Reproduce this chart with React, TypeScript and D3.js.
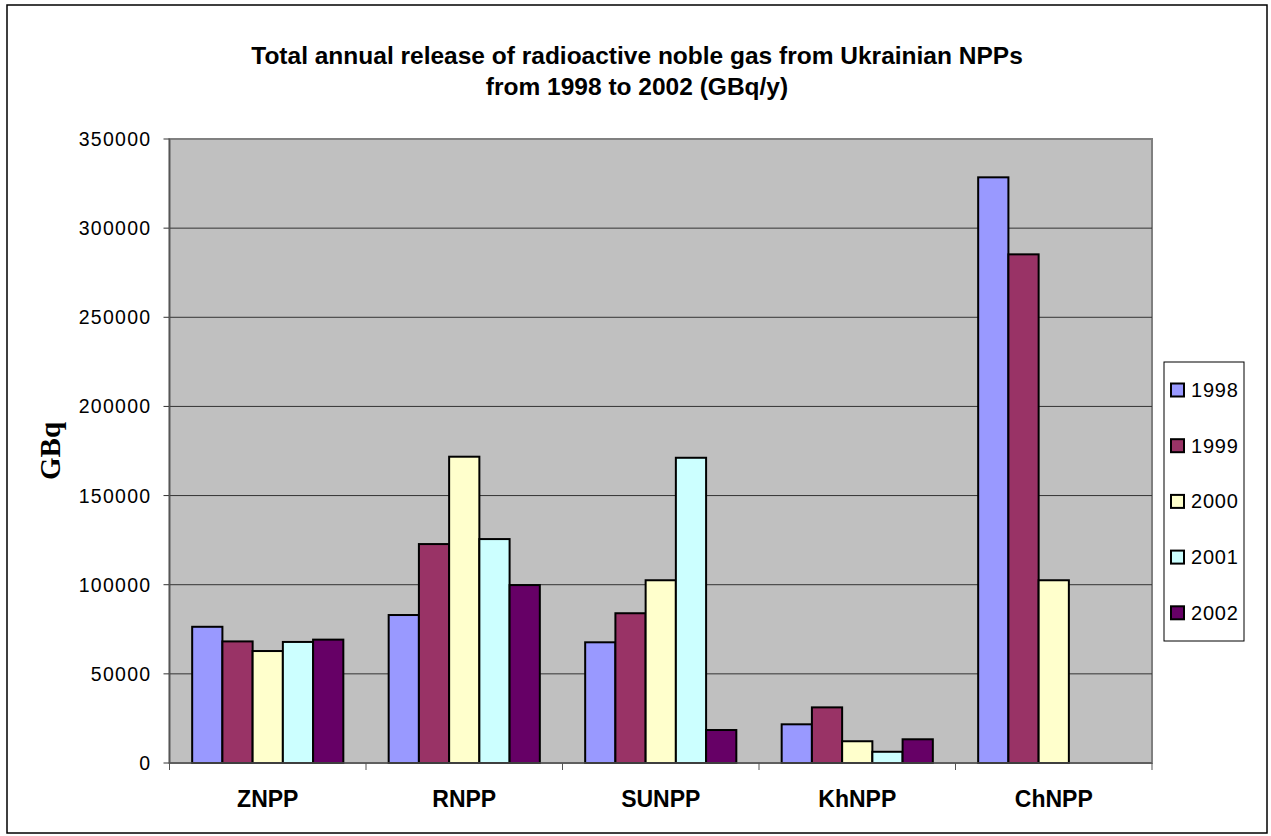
import React from 'react';
import * as d3 from 'd3';

const categories = ['ZNPP', 'RNPP', 'SUNPP', 'KhNPP', 'ChNPP'];
const years = ['1998', '1999', '2000', '2001', '2002'];
const colors = ['#9999FF', '#993366', '#FFFFCC', '#CCFFFF', '#660066'];

// values per year, in category order (GBq); null = no bar
const v1998 = [76400, 83000, 67700, 21700, 328500];
const v1999 = [68200, 122800, 84000, 31200, 285300];
const v2000 = [62800, 171800, 102500, 12200, 102500];
const v2001 = [67900, 125600, 171200, 6300, null];
const v2002 = [69200, 99800, 18500, 13300, null];
const series = [v1998, v1999, v2000, v2001, v2002];

const yTicks = [0, 50000, 100000, 150000, 200000, 250000, 300000, 350000];

export default function App() {
  const W = 1271;
  const H = 836;
  const plot = { left: 169.5, right: 1152, top: 139, bottom: 763 };

  const x0 = d3
    .scaleBand()
    .domain(categories)
    .range([plot.left, plot.right])
    .paddingInner(0)
    .paddingOuter(0);

  const bw = x0.bandwidth();
  const barW = bw / 6.5; // gap width 150%
  const x1 = d3
    .scaleBand()
    .domain(years)
    .range([barW * 0.75, bw - barW * 0.75]);

  const y = d3.scaleLinear().domain([0, 350000]).range([plot.bottom, plot.top]);

  const font = 'Liberation Sans, Arial, sans-serif';

  return (
    <svg
      width={W}
      height={H}
      style={{ position: 'absolute', left: 0, top: 0, background: '#fff' }}
      fontFamily={font}
    >
      {/* frame */}
      <rect x={7} y={5} width={1260} height={828} fill="#fff" stroke="#000" strokeWidth={1.5} />

      {/* title */}
      <text x={637} y={64} textAnchor="middle" fontSize={24.5} fontWeight="bold">
        Total annual release of radioactive noble gas from Ukrainian NPPs
      </text>
      <text x={637} y={95} textAnchor="middle" fontSize={24.5} fontWeight="bold">
        from 1998 to 2002 (GBq/y)
      </text>

      {/* plot area */}
      <rect
        x={plot.left}
        y={plot.top}
        width={plot.right - plot.left}
        height={plot.bottom - plot.top}
        fill="#C0C0C0"
        stroke="#808080"
        strokeWidth={2}
      />

      {/* gridlines + y ticks */}
      {yTicks.map(t => (
        <g key={t}>
          {t > 0 && t < 350000 ? (
            <line x1={plot.left} x2={plot.right} y1={y(t)} y2={y(t)} stroke="#333" strokeWidth={1} />
          ) : null}
          <line x1={plot.left - 6} x2={plot.left} y1={y(t)} y2={y(t)} stroke="#333" strokeWidth={1} />
          <text x={plot.left - 18} y={y(t) + 7} textAnchor="end" fontSize={19.5} letterSpacing={1.3}>
            {t}
          </text>
        </g>
      ))}

      {/* bars */}
      {categories.map((c, ci) => (
        <g key={c} transform={`translate(${x0(c)},0)`}>
          {series.map((s, si) => {
            const val = s[ci];
            if (val == null) return null;
            return (
              <rect
                key={si}
                x={x1(years[si])}
                y={y(val)}
                width={x1.bandwidth()}
                height={y(0) - y(val)}
                fill={colors[si]}
                stroke="#000"
                strokeWidth={2}
              />
            );
          })}
        </g>
      ))}

      {/* axes */}
      <line x1={plot.left} x2={plot.left} y1={plot.top} y2={plot.bottom} stroke="#555" strokeWidth={1.5} />
      <line x1={plot.left} x2={plot.right} y1={plot.bottom} y2={plot.bottom} stroke="#555" strokeWidth={1.5} />
      {categories.concat(['end']).map((c, i) => {
        const xx = plot.left + i * bw;
        return <line key={c} x1={xx} x2={xx} y1={plot.bottom} y2={plot.bottom + 7} stroke="#555" strokeWidth={1} />;
      })}
      {categories.map(c => (
        <text
          key={c}
          x={(x0(c) || 0) + bw / 2}
          y={807}
          textAnchor="middle"
          fontSize={23}
          fontWeight="bold"
        >
          {c}
        </text>
      ))}

      {/* y axis title */}
      <text
        transform="translate(60,451) rotate(-90)"
        textAnchor="middle"
        fontSize={29}
        fontWeight="bold"
        fontFamily="Liberation Serif, Times New Roman, serif"
      >
        GBq
      </text>

      {/* legend */}
      <rect x={1164} y={362} width={80} height={279} fill="#fff" stroke="#000" strokeWidth={1} />
      {years.map((yr, i) => {
        const cy = 390 + i * 55.7;
        return (
          <g key={yr}>
            <rect x={1171} y={cy - 6.5} width={13} height={13} fill={colors[i]} stroke="#000" strokeWidth={2} />
            <text x={1191} y={cy + 7} fontSize={20} letterSpacing={0.8}>
              {yr}
            </text>
          </g>
        );
      })}
    </svg>
  );
}
